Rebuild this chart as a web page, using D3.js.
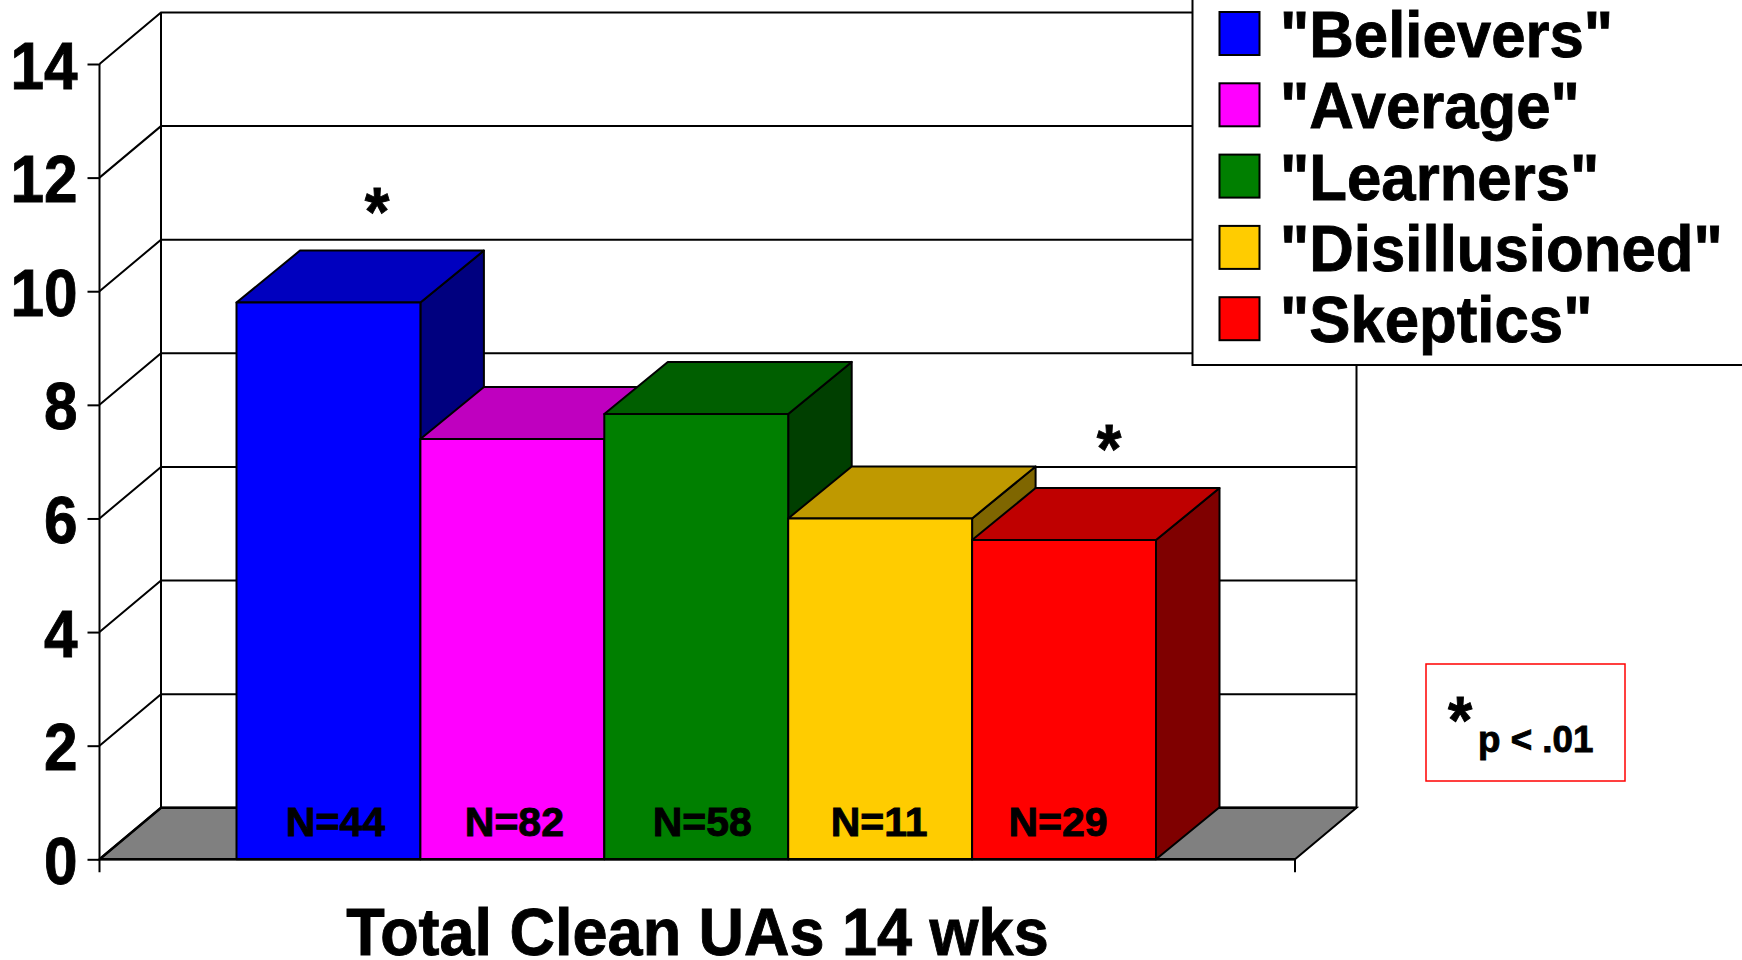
<!DOCTYPE html>
<html>
<head>
<meta charset="utf-8">
<script src="https://d3js.org/d3.v7.min.js"></script>
<style>
    html, body { margin: 0; background: #fff; overflow: hidden; }
    svg { display: block; }
    text { font-family: "Liberation Sans", Arial, sans-serif; font-weight: bold; fill: #000; stroke: #000; stroke-width: 0.9px; }
</style>
</head>
<body>
<div id="chart"></div>
<script>
const groups = ['"Believers"', '"Average"', '"Learners"', '"Disillusioned"', '"Skeptics"'];
const cleanUAs = [9.8, 7.4, 7.84, 6.0, 5.62];
const sampleSizes = ["N=44", "N=82", "N=58", "N=11", "N=29"];
const yTicks = [0, 2, 4, 6, 8, 10, 12, 14];
const significant = ['"Believers"', '"Skeptics"'];
const xTitle = "Total Clean UAs 14 wks";

const frontColors = ["#0000ff", "#ff00ff", "#007f00", "#ffcc00", "#ff0000"];
const topColors = ["#0000bf", "#bf00bf", "#005f00", "#bf9900", "#bf0000"];
const sideColors = ["#00007f", "#7f007f", "#003f00", "#7f6600", "#7f0000"];

// the N= labels are not centred on their bars in the original
const labelShift = [7, 2, 6, -1, -6];
const starShift = [48.5, 45];

const svg = d3.select("#chart").append("svg")
    .attr("width", 1742)
    .attr("height", 960);

const y = d3.scaleLinear().domain([0, 14]).range([859.3, 64]);
const x = d3.scaleBand().domain(groups).range([236.5, 1156]);

const axisLeftX = 99.5;
const axisRightX = 1295;
const wallDx = 61.5, wallDy = 51.5;
const barDx = 63.5, barDy = 52;

function poly(points) {
    return d3.line()(points) + "Z";
}

// type in the original is slightly narrowed, so each label gets its own x scale
function label(parent, str, px, py, size, squeeze, anchor) {
    return parent.append("text")
        .attr("transform", `translate(${px},${py}) scale(${squeeze},1)`)
        .attr("text-anchor", anchor || "start")
        .style("font-size", size + "px")
        .text(str);
}

// walls
const wall = svg.append("g").attr("stroke", "#000").attr("fill", "none");

wall.append("path")
    .attr("d", poly([
        [axisLeftX, y(0)],
        [axisRightX, y(0)],
        [axisRightX + wallDx, y(0) - wallDy],
        [axisLeftX + wallDx, y(0) - wallDy]
    ]))
    .attr("fill", "#808080")
    .attr("stroke-width", 2);

yTicks.forEach(function (t) {
    wall.append("path")
        .attr("d", d3.line()([
            [axisLeftX, y(t)],
            [axisLeftX + wallDx, y(t) - wallDy],
            [axisRightX + wallDx, y(t) - wallDy]
        ]))
        .attr("stroke-width", t == 0 ? 2.5 : 2);
});

wall.append("line")
    .attr("x1", axisLeftX + wallDx).attr("x2", axisLeftX + wallDx)
    .attr("y1", y(14) - wallDy).attr("y2", y(0) - wallDy)
    .attr("stroke-width", 2);

wall.append("line")
    .attr("x1", axisRightX + wallDx).attr("x2", axisRightX + wallDx)
    .attr("y1", y(14) - wallDy).attr("y2", y(0) - wallDy)
    .attr("stroke-width", 2);

// y axis
const yAxisG = svg.append("g")
    .attr("transform", `translate(${axisLeftX},0)`)
    .call(d3.axisLeft(y).tickValues(yTicks).tickSize(12).tickFormat(d3.format("d")));

yAxisG.select(".domain").remove();
yAxisG.selectAll(".tick line").attr("stroke", "#000").attr("stroke-width", 2);
yAxisG.selectAll(".tick text")
    .attr("x", null)
    .attr("dy", null)
    .attr("transform", "translate(-22,24) scale(0.9,1)")
    .attr("text-anchor", "end")
    .style("font-family", '"Liberation Sans", Arial, sans-serif')
    .style("font-size", "67px");

svg.append("line")
    .attr("x1", axisLeftX).attr("x2", axisLeftX)
    .attr("y1", y(14)).attr("y2", y(0) + 13)
    .attr("stroke", "#000").attr("stroke-width", 2);

svg.append("line")
    .attr("x1", axisRightX).attr("x2", axisRightX)
    .attr("y1", y(0)).attr("y2", y(0) + 13)
    .attr("stroke", "#000").attr("stroke-width", 2);

// bars, left to right so each one sits over the previous
const bars = svg.append("g").attr("stroke", "#000").attr("stroke-width", 2).attr("stroke-linejoin", "round");

groups.forEach(function (g, i) {
    const x0 = x(g);
    const x1 = x0 + x.bandwidth();
    const top = y(cleanUAs[i]);
    const base = y(0);

    bars.append("path")
        .attr("d", poly([[x1, top], [x1 + barDx, top - barDy], [x1 + barDx, base - barDy], [x1, base]]))
        .attr("fill", sideColors[i]);

    bars.append("path")
        .attr("d", poly([[x0, top], [x0 + barDx, top - barDy], [x1 + barDx, top - barDy], [x1, top]]))
        .attr("fill", topColors[i]);

    bars.append("rect")
        .attr("x", x0)
        .attr("y", top)
        .attr("width", x.bandwidth())
        .attr("height", base - top)
        .attr("fill", frontColors[i]);
});

svg.append("line")
    .attr("x1", axisLeftX).attr("x2", axisRightX)
    .attr("y1", y(0)).attr("y2", y(0))
    .attr("stroke", "#000").attr("stroke-width", 2.5);

groups.forEach(function (g, i) {
    label(svg, sampleSizes[i], x(g) + x.bandwidth() / 2 + labelShift[i], 836, 41, 1, "middle");
});

// significance stars
significant.forEach(function (g, k) {
    const i = groups.indexOf(g);
    label(svg, "*", x(g) + x.bandwidth() / 2 + starShift[k], y(cleanUAs[i]) - barDy - 16, 68, 0.93, "middle");
});

label(svg, xTitle, 697.5, 955, 67, 0.94, "middle");

// legend, runs off the top and right of the page
const legend = svg.append("g");

legend.append("rect")
    .attr("x", 1192.5)
    .attr("y", -10)
    .attr("width", 600)
    .attr("height", 375)
    .attr("fill", "#fff")
    .attr("stroke", "#000")
    .attr("stroke-width", 2);

groups.forEach(function (g, i) {
    const rowY = 12 + i * 71.3;

    legend.append("rect")
        .attr("x", 1219.5)
        .attr("y", rowY)
        .attr("width", 40)
        .attr("height", 43)
        .attr("fill", frontColors[i])
        .attr("stroke", "#000")
        .attr("stroke-width", 2);

    label(legend, g, 1280, rowY + 45, 65, 0.95);
});

// p value note
svg.append("rect")
    .attr("x", 1426)
    .attr("y", 664)
    .attr("width", 199)
    .attr("height", 117)
    .attr("fill", "#fff")
    .attr("stroke", "#ff0000")
    .attr("stroke-width", 1.5);

label(svg, "*", 1448, 743, 67, 0.93);
label(svg, "p < .01", 1478, 752, 36, 1.02);
</script>
</body>
</html>
